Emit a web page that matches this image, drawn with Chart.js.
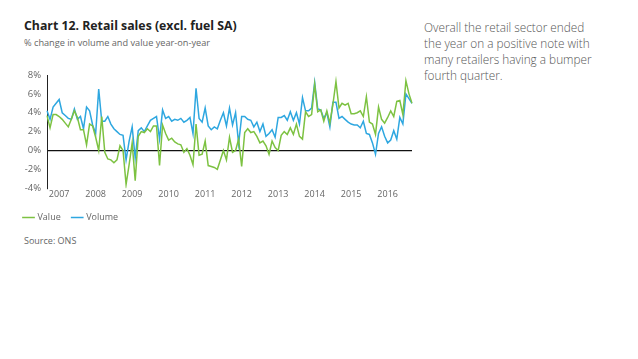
<!DOCTYPE html>
<html>
<head>
<meta charset="utf-8">
<script src="https://cdn.jsdelivr.net/npm/chart.js@4"></script>
<style>
  body { margin: 0; width: 638px; height: 359px; background: #fff; font-family: "Open Sans", sans-serif; position: relative; overflow: hidden; }
  #title { position: absolute; left: 24px; top: 17px; font-size: 12.3px; font-weight: 700; color: #222; }
  #subtitle { position: absolute; left: 24px; top: 36px; font-size: 9.2px; color: #666; }
  #source { position: absolute; left: 24px; top: 234px; font-size: 9px; color: #666; }
  #note { position: absolute; left: 424px; top: 19px; width: 172px; font-size: 11.8px; line-height: 16px; color: #555; font-weight: 300; }
  #wrap { position: absolute; left: 0; top: 62px; width: 420px; height: 170px; }
</style>
</head>
<body>
<div id="title">Chart 12. Retail sales (excl. fuel SA)</div>
<div id="subtitle">% change in volume and value year-on-year</div>
<div id="note">Overall the retail sector ended the year on a positive note with many retailers having a bumper fourth quarter.</div>
<div id="source">Source: ONS</div>
<div id="wrap"><canvas id="myChart" width="420" height="170"></canvas></div>
<script>
 const years = ['2007', '2008', '2009', '2010', '2011', '2012', '2013', '2014', '2015', '2016', '2017'];
 const months = ['01', '02', '03', '04', '05', '06', '07', '08', '09', '10', '11', '12'];

 const valueSeries = [
   3.7, 2.4, 3.8, 3.8, 3.6, 3.3, 2.9, 2.5, 3.3, 4.2, 3.5, 2.2,
   2.2, 0.6, 2.8, 2.6, 1.4, 0.0, 3.6, -0.2, -0.9, -1.0, -1.3, -1.0,
   0.5, 0.0, -3.6, -1.5, 0.8, -3.2, 1.5, 2.0, 1.9, 2.3, 2.0, 2.6,
   2.6, -1.6, 2.7, 1.8, 1.1, 1.3, 0.9, 0.7, 0.6, -0.2, 0.2, -0.5,
   -1.5, 2.8, -0.5, -0.4, 1.0, -1.6, -1.7, -1.8, -2.0, -1.0, 0.0, -1.0,
   1.4, -0.2, 0.0, 1.2, -1.7, 1.9, 2.3, 1.9, 2.0, 1.5, 0.8, 1.0,
   0.5, -0.4, 1.0, 0.3, 0.0, 1.6, 2.0, 1.7, 2.4, 1.7, 2.8, 1.5,
   1.2, 4.1, 3.6, 3.8, 7.0, 4.1, 4.3, 3.1, 4.2, 2.9, 4.9, 7.3,
   4.5, 5.0, 4.8, 5.0, 3.9, 3.9, 4.0, 4.2, 3.6, 5.7, 3.0, 2.8,
   1.7, 4.6, 3.3, 2.9, 3.5, 4.2, 3.6, 5.2, 5.3, 3.8, 7.4, 6.0,
   5.0
 ];

 const volumeSeries = [
   4.2, 3.3, 4.6, 5.0, 5.4, 4.0, 3.7, 3.4, 3.3, 4.4, 3.3, 3.6,
   2.3, 4.6, 4.2, 2.7, 1.8, 6.5, 3.1, 3.1, 3.6, 2.8, 2.3, 2.0,
   1.7, 1.6, -1.0, 1.0, 2.5, -0.8, 2.1, 2.4, 2.0, 2.6, 3.2, 3.4,
   3.6, 1.2, 4.3, 3.4, 3.6, 3.1, 3.3, 3.2, 3.4, 3.0, 3.2, 3.5,
   1.8, 6.6, 3.4, 3.0, 4.5, 2.6, 2.2, 2.5, 2.3, 3.2, 4.0, 2.6,
   4.5, 2.7, 4.0, 0.7, 3.6, 3.6, 3.3, 3.2, 2.5, 3.0, 2.0, 2.8,
   1.5, 1.8, 2.2, 1.4, 3.5, 3.5, 3.7, 3.2, 4.1, 3.2, 4.0, 2.8,
   5.6, 4.2, 4.2, 4.5, 7.2, 4.4, 4.3, 3.4, 4.0, 2.5, 5.1, 5.1,
   3.4, 3.6, 3.3, 3.0, 2.8, 2.7, 2.7, 2.4, 3.1, 1.8, 1.7, 0.8,
   -0.4, 1.8, 2.5, 1.5, 0.8, 1.1, 2.1, 1.2, 3.5, 2.8, 6.0, 5.5,
   5.0
 ];

 // one label per month, Jan 2007 onwards
 const labels = [];
 for (let i = 0; i < valueSeries.length; i++) {
   labels.push(years[Math.floor(i / 12)] + '-' + months[i % 12]);
 }

 const green = '#7dc242';
 const blue = '#2ea7e0';
 const gray = '#666';

 const ctx = document.getElementById('myChart').getContext('2d');
 const myChart = new Chart(ctx, {
     type: 'line',
     data: {
         labels: labels,
         datasets: [{
             label: 'Value',
             data: valueSeries,
             borderColor: green,
             backgroundColor: green,
             borderWidth: 1.5,
             pointRadius: 0,
             tension: 0
         }, {
             label: 'Volume',
             data: volumeSeries,
             borderColor: blue,
             backgroundColor: blue,
             borderWidth: 1.5,
             pointRadius: 0,
             tension: 0
         }]
     },
     options: {
      responsive: false,
      animation: false,
      layout: { padding: { left: 12, right: 8, top: 13, bottom: 0 } },
      plugins: {
        tooltip: { enabled: false },
        legend: {
          position: 'bottom',
          align: 'start',
          labels: {
            usePointStyle: true,
            pointStyle: 'line',
            boxWidth: 10,
            padding: 12,
            color: gray,
            font: { family: 'Open Sans', size: 9 }
          }
        }
      },
      scales: {
        x: {
          grid: { display: false, drawTicks: false },
          border: { display: false },
          ticks: {
            autoSkip: false,
            maxRotation: 0,
            padding: 1,
            color: gray,
            font: { family: 'Open Sans', size: 9 },
            callback: function(val, idx) {
              const lab = this.getLabelForValue(val);
              return lab.endsWith('-05') ? lab.slice(0, 4) : '';
            }
          }
        },
        y: {
          min: -4,
          max: 8,
          afterFit: (s) => { s.width = 35; },
          border: { display: true, color: '#222', width: 1 },
          grid: {
            drawTicks: false,
            lineWidth: 1.2,
            color: (c) => c.tick && c.tick.value === 0 ? '#111' : 'rgba(0,0,0,0)'
          },
          ticks: {
            stepSize: 2,
            padding: 6,
            color: gray,
            font: { family: 'Open Sans', size: 9.5 },
            callback: (v) => v + '%'
          }
        }
      }
     },
});
</script>
</body>
</html>
